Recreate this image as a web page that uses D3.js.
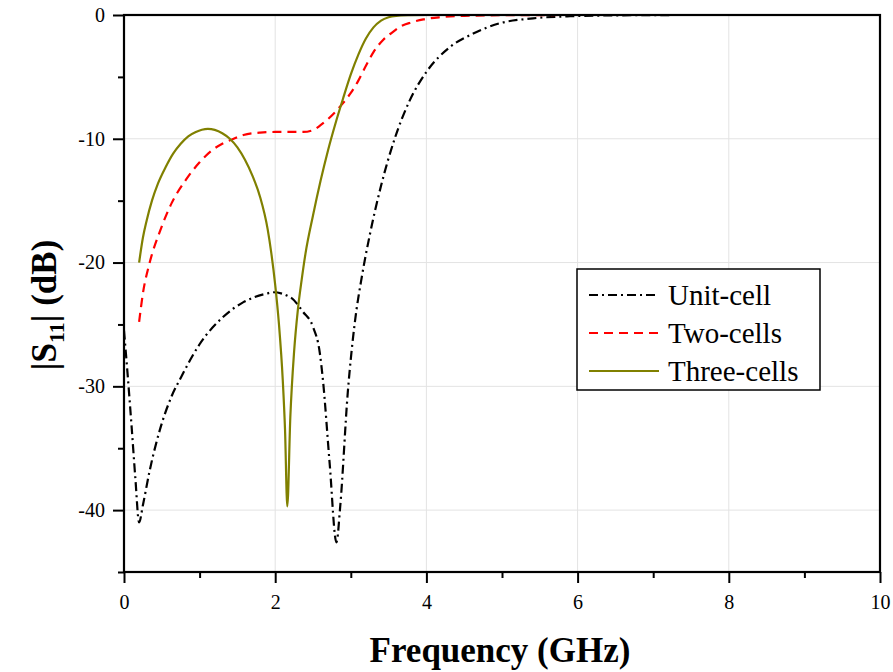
<!DOCTYPE html>
<html>
<head>
<meta charset="utf-8">
<script src="https://cdn.jsdelivr.net/npm/d3@7"></script>
<style>
    body { margin: 0; background: #fff; }
    svg text { font-family: "Liberation Serif", "Times New Roman", serif; fill: #000; }
</style>
</head>
<body>
<svg id="chart" width="893" height="672" font-family="Liberation Serif, serif"></svg>
<script>

// values (frequency in GHz, |S11| in dB)
let freqUnit = [0, 0.05, 0.1, 0.15, 0.2, 0.25, 0.34, 0.48, 0.63, 0.76, 1.0, 1.31, 1.58, 1.89, 1.97, 2.2, 2.37, 2.5, 2.59, 2.63, 2.72, 2.81, 2.86, 2.96, 3.05, 3.15, 3.25, 3.4, 3.58, 3.78, 4.0, 4.31, 4.62, 4.97, 5.41, 5.9, 6.5, 7.5, 10];
let s11Unit = [-25.5, -29.2, -33.2, -37.4, -41.0, -39.6, -36.8, -33.4, -30.8, -29.2, -26.6, -24.4, -23.2, -22.5, -22.4, -22.8, -24.0, -25.2, -27.3, -29.4, -36.2, -42.6, -39.7, -30.5, -25.0, -21.0, -17.8, -13.8, -10.0, -6.9, -4.6, -2.6, -1.5, -0.67, -0.27, -0.1, -0.03, 0, 0];

let freqTwo = [0.2, 0.25, 0.34, 0.48, 0.63, 0.82, 1.0, 1.15, 1.3, 1.45, 1.58, 1.8, 2.0, 2.37, 2.5, 2.6, 2.7, 2.8, 2.9, 3.0, 3.1, 3.2, 3.3, 3.43, 3.55, 3.65, 3.8, 3.96, 4.2, 4.5, 5.0, 6.0, 10];
let s11Two = [-24.8, -22.5, -20.0, -17.4, -15.2, -13.3, -11.9, -11.0, -10.4, -10.0, -9.7, -9.5, -9.45, -9.45, -9.3, -8.9, -8.4, -7.8, -7.1, -6.3, -5.3, -4.1, -3.0, -2.0, -1.4, -0.95, -0.6, -0.35, -0.17, -0.07, -0.02, 0, 0];

let freqThree = [0.2, 0.25, 0.3, 0.37, 0.45, 0.55, 0.65, 0.75, 0.85, 0.95, 1.03, 1.11, 1.2, 1.3, 1.4, 1.5, 1.6, 1.7, 1.8, 1.9, 1.95, 2.0, 2.05, 2.1, 2.13, 2.16, 2.2, 2.25, 2.3, 2.35, 2.4, 2.5, 2.6, 2.7, 2.8, 2.9, 3.0, 3.1, 3.2, 3.3, 3.4, 3.5, 3.6, 3.75, 4.0, 10];
let s11Three = [-20.0, -18.0, -16.6, -15.0, -13.6, -12.3, -11.2, -10.4, -9.8, -9.45, -9.27, -9.2, -9.28, -9.55, -10.0, -10.7, -11.7, -13.0, -14.7, -17.3, -19.3, -21.8, -25.0, -29.5, -33.5, -39.7, -32.5, -27.2, -23.8, -21.4, -19.3, -16.2, -13.4, -10.9, -8.7, -6.7, -4.8, -3.2, -1.9, -1.0, -0.45, -0.18, -0.07, -0.02, 0, 0];

let seriesNames = ["Unit-cell", "Two-cells", "Three-cells"];
let xTicks = [0, 2, 4, 6, 8, 10];
let yTicks = [0, -10, -20, -30, -40];
let xMinorTicks = [1, 3, 5, 7, 9];
let yMinorTicks = [-5, -15, -25, -35, -45];

class Chart {

    constructor(series) {
        this.series = series;
    }

    draw() {
        let left = 124, right = 880, top = 15, bottom = 572;
        let svg = d3.select("#chart");

        let xScale = d3.scaleLinear().domain([0, 10]).range([left, right]);
        let yScale = d3.scaleLinear().domain([-45, 0]).range([bottom, top]);

        // grid
        svg.append("g").selectAll("line")
            .data(xTicks.slice(1, -1))
            .enter().append("line")
            .attr("x1", d => xScale(d)).attr("x2", d => xScale(d))
            .attr("y1", top).attr("y2", bottom)
            .attr("stroke", "#e3e3e3").attr("stroke-width", 1);
        svg.append("g").selectAll("line")
            .data(yTicks.slice(1))
            .enter().append("line")
            .attr("x1", left).attr("x2", right)
            .attr("y1", d => yScale(d)).attr("y2", d => yScale(d))
            .attr("stroke", "#e3e3e3").attr("stroke-width", 1);

        // curves
        let line = d3.line()
            .x(d => xScale(d[0]))
            .y(d => yScale(d[1]))
            .curve(d3.curveMonotoneX);

        svg.append("g").selectAll("path")
            .data(this.series)
            .enter().append("path")
            .attr("d", d => line(d3.zip(d.x, d.y)))
            .attr("fill", "none")
            .attr("stroke", d => d.color)
            .attr("stroke-width", 2.2)
            .attr("stroke-dasharray", d => d.dash);

        // axes (plain hyphen for the minus sign, as in the original)
        let fmt = d => String(d);
        let xAxis = d3.axisBottom(xScale).tickValues(xTicks).tickSize(11).tickPadding(12).tickFormat(fmt);
        svg.append("g")
            .attr("transform", "translate(0," + bottom + ")")
            .call(xAxis);
        let xMinor = d3.axisBottom(xScale).tickValues(xMinorTicks).tickSize(6).tickFormat("");
        svg.append("g")
            .attr("transform", "translate(0," + bottom + ")")
            .call(xMinor);

        let yAxis = d3.axisLeft(yScale).tickValues(yTicks).tickSize(11).tickPadding(8).tickFormat(fmt);
        svg.append("g")
            .attr("transform", "translate(" + left + ",0)")
            .call(yAxis);
        let yMinor = d3.axisLeft(yScale).tickValues(yMinorTicks).tickSize(6).tickFormat("");
        svg.append("g")
            .attr("transform", "translate(" + left + ",0)")
            .call(yMinor);

        svg.selectAll(".domain").remove();
        svg.selectAll(".tick line").attr("stroke", "#000").attr("stroke-width", 2);
        svg.selectAll(".tick").attr("font-family", null);
        svg.selectAll(".tick text")
            .attr("font-family", "Liberation Serif, serif")
            .style("font-size", "20px")
            .attr("fill", "#000");

        // frame
        svg.append("rect")
            .attr("x", left).attr("y", top)
            .attr("width", right - left).attr("height", bottom - top)
            .attr("fill", "none").attr("stroke", "#000").attr("stroke-width", 2.2);

        // axis titles
        svg.append("text")
            .attr("x", (left + right) / 2 - 2)
            .attr("y", 662)
            .attr("text-anchor", "middle")
            .style("font-size", "35px")
            .style("font-weight", "bold")
            .text("Frequency (GHz)");

        let yTitle = svg.append("text")
            .attr("transform", "translate(56,305) rotate(-90)")
            .attr("text-anchor", "middle")
            .style("font-size", "35px")
            .style("font-weight", "bold");
        yTitle.append("tspan").text("|S");
        yTitle.append("tspan").attr("dy", 8).style("font-size", "22px").text("11");
        yTitle.append("tspan").attr("dy", -8).text("| (dB)");

        // legend
        let lx = 577, ly = 269;
        let legend = svg.append("g");
        legend.append("rect")
            .attr("x", lx).attr("y", ly)
            .attr("width", 243).attr("height", 121)
            .attr("fill", "#fff").attr("stroke", "#000").attr("stroke-width", 1.5);

        let rows = legend.selectAll("g.row")
            .data(this.series)
            .enter().append("g")
            .attr("class", "row")
            .attr("transform", (d, i) => "translate(" + lx + "," + (ly + 26 + i * 38) + ")");
        rows.append("line")
            .attr("x1", 12).attr("x2", 82)
            .attr("stroke", d => d.color)
            .attr("stroke-width", 2.2)
            .attr("stroke-dasharray", d => d.dash);
        rows.append("text")
            .attr("x", 91).attr("y", 10)
            .style("font-size", "29px")
            .text(d => d.name);
    }
}

let chart = new Chart([
    {name: seriesNames[0], x: freqUnit, y: s11Unit, color: "#000", dash: "9,4,2,4"},
    {name: seriesNames[1], x: freqTwo, y: s11Two, color: "#ff0000", dash: "9,6"},
    {name: seriesNames[2], x: freqThree, y: s11Three, color: "#808000", dash: null}
]);
chart.draw();

</script>
</body>
</html>
